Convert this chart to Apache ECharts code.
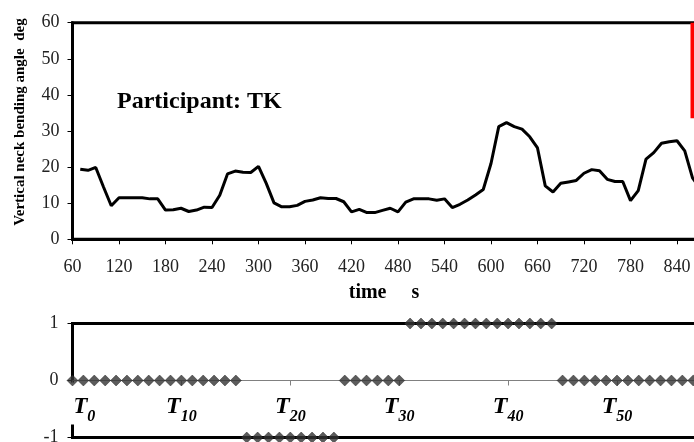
<!DOCTYPE html>
<html><head><meta charset="utf-8">
<script src="https://cdn.jsdelivr.net/npm/echarts@6/dist/echarts.min.js"></script>
<style>html,body{margin:0;padding:0;background:#fff}#c{width:694px;height:442px}</style>
</head><body><div id="c"></div>
<script>
// ---- top chart: vertical neck bending angle (deg) vs time (s)
const times = [70,80,90,100,110,120,130,140,150,160,170,180,190,200,210,220,230,240,250,260,
  270,280,290,300,310,320,330,340,350,360,370,380,390,400,410,420,430,440,450,460,
  470,480,490,500,510,520,530,540,550,560,570,580,590,600,610,620,630,640,650,660,
  670,680,690,700,710,720,730,740,750,760,770,780,790,800,810,820,830,840,850,860,870];
const angles = [19.4,19.1,19.9,14.5,9.3,11.5,11.5,11.5,11.5,11.2,11.2,8.1,8.2,8.6,7.7,8.1,8.9,8.8,12.2,18.1,
  18.9,18.6,18.5,20.2,15.5,10.1,9.0,9.0,9.4,10.5,10.9,11.5,11.3,11.3,10.4,7.6,8.3,7.4,7.4,8.0,
  8.6,7.6,10.3,11.2,11.2,11.2,10.8,11.2,8.8,9.7,10.9,12.3,13.8,21.0,31.2,32.3,31.2,30.5,28.4,25.3,
  14.8,13.1,15.5,15.9,16.3,18.3,19.3,19.0,16.6,16.0,16.0,10.7,13.5,22.2,24.0,26.6,27.0,27.3,24.5,17.0,14.0];
const redLineTimes = [860, 860];
const redLineAngles = [60, 33.5];
const timeMin = 60, timeMax = 900, timeStep = 60;
const angleMin = 0, angleMax = 60, angleStep = 10;

// ---- bottom chart: task state per task index
const taskIndex = [];
for (let i = 0; i <= 57; i++) taskIndex.push(i);
const taskState = [0,0,0,0,0,0,0,0,0,0,0,0,0,0,0,0,
  -1,-1,-1,-1,-1,-1,-1,-1,-1,
  0,0,0,0,0,0,
  1,1,1,1,1,1,1,1,1,1,1,1,1,1,
  0,0,0,0,0,0,0,0,0,0,0,0,0];
const taskMin = 0, taskMax = 60, taskStep = 10;
const stateMin = -1, stateMax = 1, stateStep = 1;

const titleText = 'Participant: TK';
const xName = 'time     s';
const yName = 'Vertical neck bending angle  deg';

const SERIF = 'Liberation Serif';
const chart = echarts.init(document.getElementById('c'));
const lblStyle = {fontFamily: SERIF, fontSize: 18, color: '#222'};
const G2 = {top: 323.5, height: 114};

chart.setOption({
  animation: false,
  grid: [
    {left: 72.5, top: 22.7, width: 651, height: 216.6, show: true, borderColor: '#000', borderWidth: 3,
     containLabel: false, outerBoundsMode: 'none'},
    {left: 72.5, top: G2.top, width: 653.4, height: G2.height, show: true, borderColor: '#000', borderWidth: 3,
     containLabel: false, outerBoundsMode: 'none'}
  ],
  xAxis: [
    {type: 'value', gridIndex: 0, min: timeMin, max: timeMax, interval: timeStep,
     axisLine: {onZero: false, lineStyle: {color: '#000', width: 3}},
     axisTick: {show: true, length: 5, lineStyle: {color: '#000', width: 1}},
     axisLabel: Object.assign({margin: 19}, lblStyle), splitLine: {show: false}},
    {type: 'value', gridIndex: 1, min: taskMin, max: taskMax, interval: taskStep,
     position: 'bottom', offset: -G2.height / 2,
     axisLine: {onZero: false, lineStyle: {color: '#808080', width: 1}},
     axisTick: {show: true, length: 5, lineStyle: {color: '#808080', width: 1}},
     splitLine: {show: false},
     axisLabel: {margin: 14, verticalAlign: 'top',
       formatter: v => (v === 0 ? '{sp|}' : '') + '{t|T}{s|' + v + '}',
       rich: {
         sp: {width: 23, height: 10},
         t: {fontFamily: SERIF, fontSize: 24, fontWeight: 'bold', fontStyle: 'italic', color: '#000', verticalAlign: 'top', lineHeight: 24},
         s: {fontFamily: SERIF, fontSize: 16, fontWeight: 'bold', fontStyle: 'italic', color: '#000', verticalAlign: 'top', lineHeight: 16, padding: [14, 0, 0, 0]}
       }}}
  ],
  yAxis: [
    {type: 'value', gridIndex: 0, min: angleMin, max: angleMax, interval: angleStep,
     axisLine: {show: true, lineStyle: {color: '#000', width: 3}},
     axisTick: {show: true, length: 5, lineStyle: {color: '#000', width: 1}},
     axisLabel: Object.assign({margin: 13}, lblStyle), splitLine: {show: false}},
    {type: 'value', gridIndex: 1, min: stateMin, max: stateMax, interval: stateStep,
     axisLine: {show: true, lineStyle: {color: '#000', width: 3}},
     axisTick: {show: true, length: 5, lineStyle: {color: '#000', width: 1}},
     axisLabel: Object.assign({margin: 14}, lblStyle), splitLine: {show: false}}
  ],
  series: [
    {type: 'line', xAxisIndex: 0, yAxisIndex: 0, showSymbol: false, z: 3,
     data: times.map((t, i) => [t, angles[i]]),
     lineStyle: {color: '#000', width: 3}},
    {type: 'line', xAxisIndex: 0, yAxisIndex: 0, showSymbol: false, z: 4,
     data: redLineTimes.map((t, i) => [t, redLineAngles[i]]),
     lineStyle: {color: '#ff0000', width: 4}},
    {type: 'scatter', xAxisIndex: 1, yAxisIndex: 1, symbol: 'diamond', symbolSize: [11, 11], z: 5,
     data: taskIndex.map((k, i) => [k, taskState[i]]),
     itemStyle: {color: '#333', borderColor: '#111', borderWidth: 0.5}}
  ],
  graphic: [
    {id: 'title', type: 'text', x: 117, y: 101.5, z: 10,
     style: {text: titleText, font: 'bold 24px "Liberation Serif"', fill: '#000', align: 'left', verticalAlign: 'middle'}},
    {id: 'xname', type: 'text', x: 384, y: 293, z: 10,
     style: {text: xName, font: 'bold 20px "Liberation Serif"', fill: '#000', align: 'center', verticalAlign: 'middle'}},
    {id: 'yname', type: 'text', x: 20, y: 122, rotation: Math.PI / 2, z: 10,
     style: {text: yName, font: 'bold 15px "Liberation Serif"', fill: '#000', align: 'center', verticalAlign: 'middle'}}
  ]
});

// white gap in the lower chart's left axis (between the zero line and the T0 label area)
const p0 = chart.convertToPixel({gridIndex: 1}, [0, 0]);
const pm = chart.convertToPixel({gridIndex: 1}, [0, -1]);
chart.setOption({graphic: [
  {id: 'gap', type: 'rect', z: 1, shape: {x: p0[0] - 3, y: p0[1] + 2, width: 6, height: (pm[1] - 13) - (p0[1] + 2)},
   style: {fill: '#fff'}}
]});
</script></body></html>
